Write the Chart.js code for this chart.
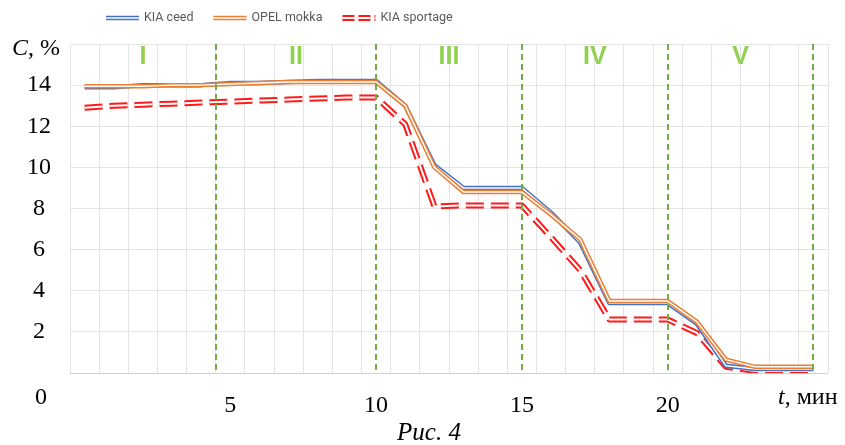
<!DOCTYPE html>
<html>
<head>
<meta charset="utf-8">
<title>Рис. 4</title>
<script src="https://cdn.jsdelivr.net/npm/chart.js"></script>
<style>
    html, body { margin: 0; padding: 0; background: #fff; }
    #wrap { width: 845px; height: 445px; }
</style>
</head>
<body>
<div id="wrap"><canvas id="chart"></canvas></div>
<script>
    // time, min (one reading per minute)
    const minutes = [0, 1, 2, 3, 4, 5, 6, 7, 8, 9, 10, 11, 12, 13, 14, 15, 16, 17, 18, 19, 20, 21, 22, 23, 24, 25];
    // concentration C, %
    const kiaCeed = [13.9, 13.9, 14.0, 14.0, 14.0, 14.1, 14.1, 14.15, 14.2, 14.2, 14.2, 13.0, 10.1, 9.0, 9.0, 9.0, 7.8, 6.35, 3.4, 3.4, 3.4, 2.4, 0.35, 0.2, 0.2, 0.2];
    const opelMokka = [13.95, 13.95, 13.95, 14.0, 14.0, 14.05, 14.1, 14.15, 14.15, 14.15, 14.15, 13.0, 10.0, 8.8, 8.8, 8.8, 7.7, 6.5, 3.5, 3.5, 3.5, 2.5, 0.65, 0.3, 0.3, 0.3];
    const kiaSportage = [12.9, 13.0, 13.05, 13.1, 13.15, 13.2, 13.25, 13.3, 13.35, 13.4, 13.4, 12.1, 8.1, 8.15, 8.15, 8.15, 6.6, 5.0, 2.6, 2.6, 2.6, 1.95, 0.3, 0.1, 0.1, 0.1];
    const seriesNames = ['KIA ceed', 'OPEL mokka', 'KIA sportage'];

    // test phases: boundaries (min) and their names
    const phaseBounds = [-0.5, 4.5, 10, 15, 20, 25];
    const phaseNames = ['I', 'II', 'III', 'IV', 'V'];

    const yTickLabels = [2, 4, 6, 8, 10, 12, 14];
    const xTickLabels = [5, 10, 15, 20];

    const serif = "'Liberation Serif', 'Times New Roman', serif";
    const toPoints = vals => vals.map((v, i) => ({ x: minutes[i], y: v }));

    // Excel-like "double" line: white stripe along the middle of each series
    const overlay = {
        id: 'overlay',
        afterDatasetDraw(chart, args) {
            const ds = chart.data.datasets[args.index];
            const pts = args.meta.data;
            const ctx = chart.ctx;
            ctx.save();
            ctx.beginPath();
            pts.forEach((p, i) => i ? ctx.lineTo(p.x, p.y) : ctx.moveTo(p.x, p.y));
            ctx.lineWidth = ds.borderWidth / 3;
            ctx.strokeStyle = '#fff';
            ctx.lineJoin = 'round';
            ctx.setLineDash(ds.borderDash || []);
            ctx.stroke();
            ctx.restore();
        },
        afterDatasetsDraw(chart) {
            const ctx = chart.ctx;
            const x = chart.scales.x;
            const area = chart.chartArea;
            ctx.save();
            ctx.strokeStyle = '#70AD47';
            ctx.lineWidth = 2;
            ctx.setLineDash([6, 4]);
            phaseBounds.slice(1).forEach(b => {
                const px = Math.round(x.getPixelForValue(b));
                ctx.beginPath();
                ctx.moveTo(px, area.top);
                ctx.lineTo(px, area.bottom);
                ctx.stroke();
            });
            ctx.fillStyle = '#92D050';
            ctx.font = "bold 25px 'Liberation Sans', Arial, sans-serif";
            ctx.textAlign = 'center';
            ctx.textBaseline = 'middle';
            phaseNames.forEach((name, i) => {
                const mid = (phaseBounds[i] + phaseBounds[i + 1]) / 2;
                ctx.fillText(name, x.getPixelForValue(mid), area.top + 13);
            });
            ctx.restore();
        },
        afterDraw(chart) {
            const ctx = chart.ctx;
            const area = chart.chartArea;
            ctx.save();
            ctx.textBaseline = 'middle';
            ctx.fillStyle = '#000';

            // axis titles written over the chart, as in the paper
            ctx.textAlign = 'left';
            ctx.font = 'italic 24px ' + serif;
            ctx.fillText('C', 12, area.top + 5);
            let w = ctx.measureText('C').width;
            ctx.font = '24px ' + serif;
            ctx.fillText(', %', 12 + w, area.top + 5);

            ctx.font = 'italic 24px ' + serif;
            ctx.fillText('t', 778, area.bottom + 25);
            w = ctx.measureText('t').width;
            ctx.font = '24px ' + serif;
            ctx.fillText(', мин', 778 + w, area.bottom + 25);

            ctx.textAlign = 'center';
            ctx.fillText('0', area.left - 29, area.bottom + 25);

            ctx.font = 'italic 25px ' + serif;
            ctx.fillText('Рис. 4', 429, area.bottom + 60);

            // legend
            let lx = 106;
            const ly = 18;
            ctx.textAlign = 'left';
            ctx.font = "12.5px Roboto, 'Liberation Sans', sans-serif";
            chart.data.datasets.forEach(ds => {
                ctx.setLineDash(ds.borderDash ? [12, 4] : []);
                ctx.beginPath();
                ctx.moveTo(lx, ly);
                ctx.lineTo(lx + 33, ly);
                ctx.lineWidth = ds.borderWidth;
                ctx.strokeStyle = ds.borderColor;
                ctx.stroke();
                ctx.lineWidth = ds.borderWidth / 3;
                ctx.strokeStyle = '#fff';
                ctx.stroke();
                ctx.setLineDash([]);
                lx += 38;
                ctx.fillStyle = '#595959';
                ctx.fillText(ds.label, lx, ly);
                lx += ctx.measureText(ds.label).width + 20;
            });
            ctx.restore();
        }
    };

    new Chart(document.getElementById('chart'), {
        type: 'line',
        data: {
            datasets: [
                { label: seriesNames[0], data: toPoints(kiaCeed), borderColor: '#4472C4', borderWidth: 4.5, order: 1 },
                { label: seriesNames[1], data: toPoints(opelMokka), borderColor: '#ED7D31', borderWidth: 4.5, order: 0 },
                { label: seriesNames[2], data: toPoints(kiaSportage), borderColor: '#FF1A1A', borderWidth: 6, borderDash: [18, 7], order: 2 }
            ]
        },
        options: {
            responsive: true,
            maintainAspectRatio: false,
            animation: false,
            layout: { padding: { top: 44, right: 17, left: 0, bottom: 0 } },
            elements: {
                point: { radius: 0 },
                line: { tension: 0, borderJoinStyle: 'round', fill: false }
            },
            plugins: {
                legend: { display: false },
                tooltip: { enabled: false }
            },
            scales: {
                x: {
                    type: 'linear',
                    min: -0.5,
                    max: 25.5,
                    weight: 0,
                    afterBuildTicks: s => {
                        s.ticks = [];
                        for (let v = -0.5; v <= 25.5; v += 1) s.ticks.push({ value: v });
                    },
                    ticks: { display: false },
                    grid: { color: '#e4e4e4', drawTicks: false },
                    border: { display: false },
                    afterFit: s => { s.height = 0; }
                },
                xl: {
                    type: 'linear',
                    position: 'bottom',
                    min: -0.5,
                    max: 25.5,
                    weight: 1,
                    afterBuildTicks: s => { s.ticks = xTickLabels.map(v => ({ value: v })); },
                    ticks: {
                        autoSkip: false,
                        maxRotation: 0,
                        padding: 10,
                        color: '#000',
                        font: { family: serif, size: 24 },
                        callback: v => String(v)
                    },
                    grid: { display: false },
                    border: { display: false },
                    afterFit: s => { s.height = 72; }
                },
                y: {
                    min: 0,
                    max: 16,
                    ticks: {
                        stepSize: 2,
                        padding: 19,
                        crossAlign: 'center',
                        color: '#000',
                        font: { family: serif, size: 24 },
                        callback: v => yTickLabels.includes(v) ? String(v) : ''
                    },
                    grid: {
                        drawTicks: false,
                        color: c => c.tick.value === 0 ? '#d0d0d0' : '#e4e4e4'
                    },
                    border: { display: false },
                    afterFit: s => { s.width = 70; }
                }
            }
        },
        plugins: [overlay]
    });
</script>
</body>
</html>
